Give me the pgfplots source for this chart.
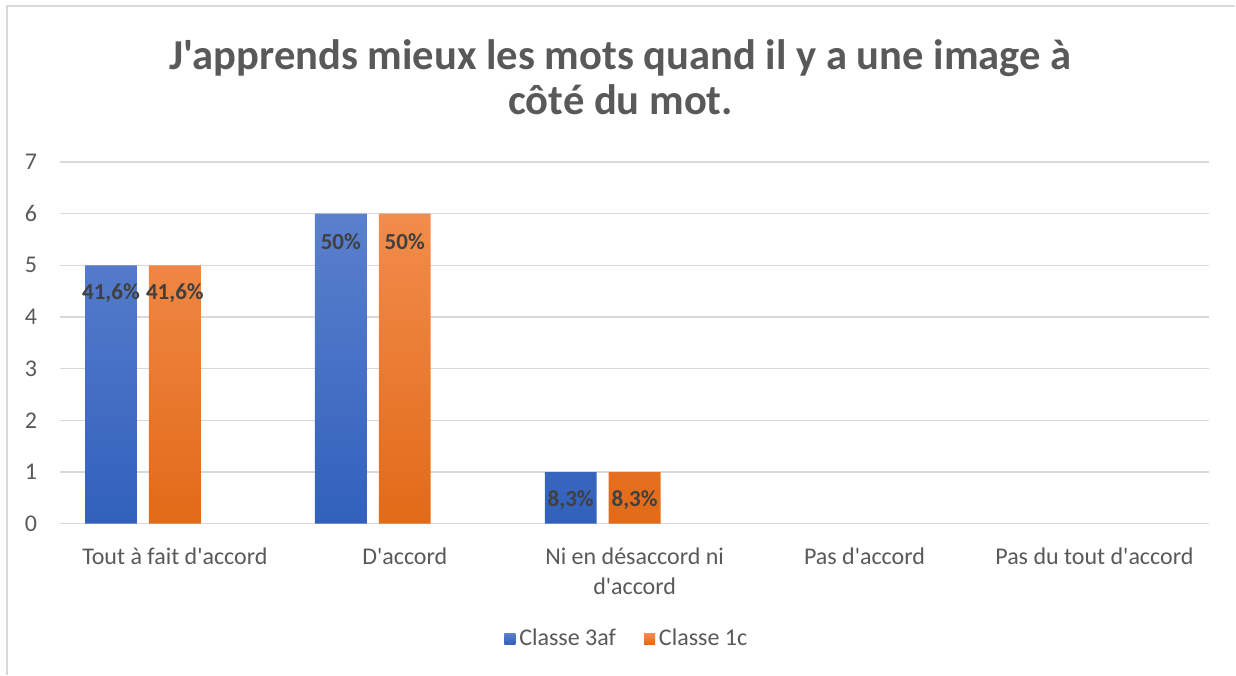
\documentclass[border=0pt]{standalone}
\usepackage{fontspec}
\setmainfont{Carlito}[Ligatures=TeXOff]
\usepackage{pgfplots}
\pgfplotsset{compat=1.18}
\definecolor{txt}{HTML}{595959}
\definecolor{lbl}{HTML}{404040}
\definecolor{gridc}{HTML}{D9D9D9}
\definecolor{bluetop}{HTML}{5B80CD}
\definecolor{bluebot}{HTML}{3161BC}
\definecolor{orgtop}{HTML}{F28C4C}
\definecolor{orgbot}{HTML}{E26A18}

\begin{document}
\begin{tikzpicture}
% page frame (1 px = 0.5pt)
\path (0pt,0pt) rectangle (618pt,337.5pt);
\draw[gridc, line width=0.7pt] (3.5pt,0pt) -- (3.5pt,334.5pt) -- (618pt,334.5pt);
\node[font=\fontsize{21.3}{22.5}\selectfont\bfseries, text=txt, align=center]
  at (310.5pt,298.75pt) {J'apprends mieux les mots quand il y a une image à\\côté du mot.};
\begin{axis}[
    at={(30pt,75.5pt)}, anchor=south west,
    width=575pt, height=181pt, scale only axis,
    xmin=-0.5, xmax=4.5, ymin=0, ymax=7,
    xtick={0,...,4},
    xticklabels={Tout à fait d'accord, D'accord, {Ni en désaccord ni\\d'accord}, Pas d'accord, Pas du tout d'accord},
    ytick={0,...,7},
    ymajorgrids, grid style={gridc, line width=0.75pt},
    axis line style={draw=none},
    tick style={draw=none},
    /pgf/number format/assume math mode=true,
    ticklabel style={font=\fontsize{12}{15}\selectfont, text=txt},
    xticklabel style={align=center, yshift=-8.5pt},
    yticklabel style={xshift=-8pt},
    legend style={at={(0.494,-0.318)}, anchor=center, draw=none,
      font=\fontsize{12}{15}\selectfont, text=txt,
      legend columns=2,
      /tikz/every even column/.append style={column sep=12pt}},
    legend image code/.code={\path[#1, draw=none] (0pt,-2.75pt) rectangle (5.5pt,2.75pt);},
    point meta=explicit symbolic,
    nodes near coords,
    every node near coord/.append style={anchor=center, yshift=-14pt,
      font=\fontsize{11.5}{13}\selectfont\bfseries, text=lbl},
    restrict y to domain=0.01:10,
]
% Classe 3af (drawn left of each category centre)
\addplot[ybar, bar width=0.226, bar shift=0, draw=none,
  top color=bluetop, bottom color=bluebot] coordinates {
  (-0.278,5) [41,6\%]
  (0.722,6) [50\%]
  (1.722,1) [8,3\%]
  (2.722,0) []
  (3.722,0) []
};
% Classe 1c
\addplot[ybar, bar width=0.226, bar shift=0, draw=none,
  top color=orgtop, bottom color=orgbot] coordinates {
  (0,5) [41,6\%]
  (1,6) [50\%]
  (2,1) [8,3\%]
  (3,0) []
  (4,0) []
};
\legend{Classe 3af, Classe 1c}
\end{axis}
\end{tikzpicture}
\end{document}
